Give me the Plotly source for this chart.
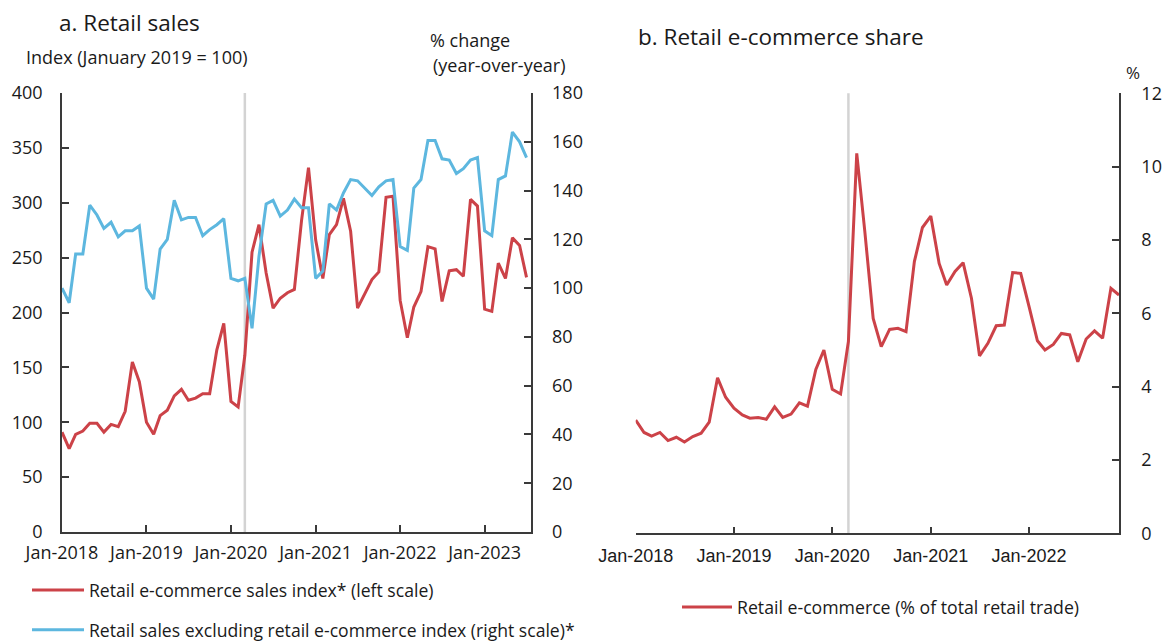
import pandas as pd
import plotly.graph_objects as go

# ---------------- data ----------------
months_a = pd.date_range("2018-01-01", periods=67, freq="MS")
months_b = pd.date_range("2018-01-01", periods=60, freq="MS")

ecom_index = [91, 76, 89, 92, 99, 99, 91, 98, 96, 110,
              155, 137, 100, 89, 106, 111, 124, 130, 120, 122,
              126, 126, 166, 190, 119, 114, 161, 255, 280, 236,
              204, 213, 218, 221, 284, 332, 266, 231, 271, 280,
              304, 274, 204, 217, 230, 237, 305, 306, 211, 177,
              205, 219, 260, 258, 210, 238, 239, 233, 303, 297,
              203, 201, 245, 231, 268, 261, 232]

excl_ecom_index = [100, 94, 114, 114, 134, 130, 124.5, 127, 121, 123.5,
                   123.5, 125.5, 100, 95.5, 116, 120, 136, 128, 129, 129,
                   121.5, 124, 126, 128.5, 104, 103, 104, 83.5, 113, 134.5,
                   136, 129.5, 132, 136.5, 133, 133, 104, 107, 134.5, 132,
                   139, 144.5, 144, 141, 138, 141.5, 144, 144.5, 117, 115.5,
                   141, 144.5, 160.5, 160.5, 153, 152.5, 147, 149, 152.5, 153.5,
                   123.5, 121.5, 144.5, 146, 164, 160, 153.5]

ecom_share = [3.09, 2.75, 2.65, 2.75, 2.53, 2.62, 2.49, 2.64, 2.73, 3.03,
              4.24, 3.71, 3.41, 3.23, 3.14, 3.16, 3.11, 3.45, 3.16, 3.25,
              3.56, 3.47, 4.47, 5.00, 3.93, 3.80, 5.23, 10.36, 8.23, 5.86,
              5.09, 5.56, 5.59, 5.50, 7.41, 8.34, 8.65, 7.36, 6.77, 7.14,
              7.38, 6.41, 4.84, 5.18, 5.66, 5.68, 7.11, 7.09, 6.18, 5.25,
              5.00, 5.15, 5.45, 5.41, 4.68, 5.30, 5.52, 5.32, 6.68, 6.50]

tick_dates_a = ["2018-01-01", "2019-01-01", "2020-01-01", "2021-01-01", "2022-01-01", "2023-01-01"]
tick_text_a = ["Jan-2018", "Jan-2019", "Jan-2020", "Jan-2021", "Jan-2022", "Jan-2023"]
tick_dates_b = tick_dates_a[:5]
tick_text_b = tick_text_a[:5]
pandemic_start = "2020-03-01"

# ---------------- styles ----------------
RED = "#CC4248"
BLUE = "#5DB7DF"
GREY = "#D3D3D3"
AX = "#3a3a3a"
FONT = "Open Sans, Noto Sans, sans-serif"
ARIAL = "Liberation Sans, Arial, sans-serif"
W, H = 1162, 642


def px_x(p):
    return p / W


def px_y(p):
    return 1 - p / H


fig = go.Figure()

fig.add_trace(go.Scatter(x=months_a, y=ecom_index, mode="lines",
                         line=dict(color=RED, width=3),
                         name="Retail e-commerce sales index* (left scale)",
                         xaxis="x", yaxis="y", legend="legend", legendgroup="a1"))
fig.add_trace(go.Scatter(x=months_a, y=excl_ecom_index, mode="lines",
                         line=dict(color=BLUE, width=3),
                         name="Retail sales excluding retail e-commerce index (right scale)*",
                         xaxis="x", yaxis="y2", legend="legend", legendgroup="a2"))
fig.add_trace(go.Scatter(x=months_b, y=ecom_share, mode="lines",
                         line=dict(color=RED, width=3),
                         name="Retail e-commerce (% of total retail trade)",
                         xaxis="x2", yaxis="y3", legend="legend2"))

axis_common = dict(showgrid=False, zeroline=False, showline=True, linecolor=AX,
                   linewidth=1.5, ticks="inside", ticklen=7, tickcolor=AX, tickwidth=1.5,
                   automargin=False)

dom_xa = [px_x(62), px_x(530.7)]
dom_ya = [px_y(532), px_y(93)]
dom_xb = [px_x(635.7), px_x(1119)]
dom_yb = [px_y(533.3), px_y(93.3)]

fig.update_layout(
    template="none",
    width=W, height=H, margin=dict(l=0, r=0, t=0, b=0, autoexpand=False),
    paper_bgcolor="white", plot_bgcolor="white",
    font=dict(family=FONT, size=18, color="#1a1a1a"),
    xaxis=dict(domain=dom_xa, anchor="y", type="date",
               range=["2018-01-01", "2023-07-19"],
               tickvals=tick_dates_a, ticktext=tick_text_a,
               tickfont=dict(family=FONT, size=18), ticklabelstandoff=4,
               **axis_common),
    yaxis=dict(domain=dom_ya, anchor="x", range=[0, 400], dtick=50,
               tickfont=dict(family=FONT, size=18), ticklabelstandoff=14,
               **axis_common),
    yaxis2=dict(overlaying="y", anchor="x", side="right", range=[0, 180], dtick=20,
                tickfont=dict(family=FONT, size=18), ticklabelstandoff=16,
                **axis_common),
    xaxis2=dict(domain=dom_xb, anchor="y3", type="date",
                range=["2018-01-01", "2022-12-01"],
                tickvals=tick_dates_b, ticktext=tick_text_b,
                tickfont=dict(family=ARIAL, size=18), ticklabelstandoff=5,
                **axis_common),
    yaxis3=dict(domain=dom_yb, anchor="x2", side="right", range=[0, 12], dtick=2,
                tickfont=dict(family=FONT, size=18), ticklabelstandoff=17,
                **axis_common),
    yaxis4=dict(overlaying="y3", anchor="x2", side="left", range=[0, 12], dtick=3,
                showticklabels=False, **axis_common),
    legend=dict(x=px_x(27), y=px_y(572), xanchor="left", yanchor="top",
                orientation="v", tracegroupgap=14, itemwidth=52, bgcolor="rgba(0,0,0,0)",
                font=dict(family=FONT, size=17.6)),
    legend2=dict(x=px_x(677), y=px_y(589), xanchor="left", yanchor="top",
                 orientation="v", itemwidth=50, bgcolor="rgba(0,0,0,0)",
                 font=dict(family=FONT, size=17.7)),
    showlegend=True,
)

# pandemic reference lines
fig.add_shape(type="line", xref="x", yref="y domain", x0=pandemic_start, x1=pandemic_start,
              y0=0, y1=1, line=dict(color=GREY, width=2.5), layer="below")
fig.add_shape(type="line", xref="x2", yref="y3 domain", x0=pandemic_start, x1=pandemic_start,
              y0=0, y1=1, line=dict(color=GREY, width=2.5), layer="below")

# titles and axis captions
ann = [
    dict(text="a. Retail sales", x=px_x(57), y=px_y(23), xanchor="left", yanchor="middle",
         font=dict(size=22.5)),
    dict(text="b. Retail e-commerce share", x=px_x(636), y=px_y(37), xanchor="left",
         yanchor="middle", font=dict(size=22.5)),
    dict(text="Index (January 2019 = 100)", x=px_x(24), y=px_y(57), xanchor="left",
         yanchor="middle", font=dict(size=18)),
    dict(text="% change", x=px_x(428), y=px_y(40), xanchor="left", yanchor="middle",
         font=dict(size=18)),
    dict(text="(year-over-year)", x=px_x(431), y=px_y(65), xanchor="left", yanchor="middle",
         font=dict(size=18)),
    dict(text="%", x=px_x(1133), y=px_y(73), xanchor="center", yanchor="middle",
         font=dict(size=17)),
]
for a in ann:
    fig.add_annotation(xref="paper", yref="paper", showarrow=False, **a)

fig.write_html("out.html", config={"displayModeBar": False},
               post_script="document.body.style.margin='0';document.body.style.overflow='hidden';")
